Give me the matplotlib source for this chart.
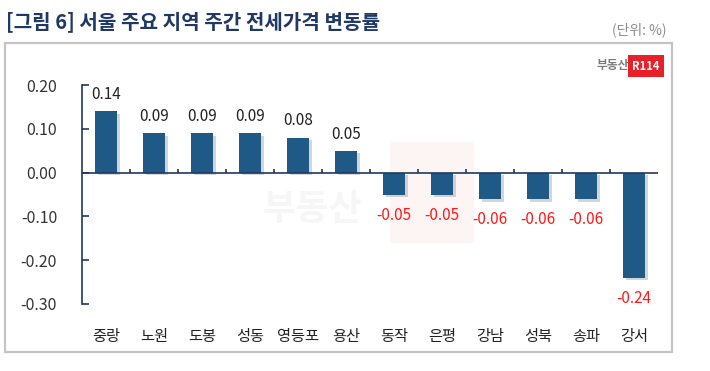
import matplotlib.pyplot as plt
import matplotlib.patheffects as pe
from matplotlib.patches import Rectangle
import numpy as np

plt.rcParams['font.family'] = ['Noto Sans CJK KR', 'DejaVu Sans']

# 서울 주요 지역 주간 전세가격 변동률 (%)
regions = ['중랑', '노원', '도봉', '성동', '영등포', '용산',
           '동작', '은평', '강남', '성북', '송파', '강서']
changes = [0.14, 0.09, 0.09, 0.09, 0.08, 0.05,
           -0.05, -0.05, -0.06, -0.06, -0.06, -0.24]
yticks = [0.20, 0.10, 0.00, -0.10, -0.20, -0.30]

bar_color = '#1f5a87'
navy = '#1f3864'

fig = plt.figure(figsize=(7.1, 3.71), dpi=100)

# outer frame
fig.patches.append(Rectangle((5 / 710, 1 - 352 / 371), 667 / 710, 309 / 371,
                             transform=fig.transFigure, fill=False,
                             edgecolor='#c4c4c4', linewidth=1.6))

fig.text(6 / 710, 1 - 22 / 371, '[그림 6] 서울 주요 지역 주간 전세가격 변동률',
         fontsize=14.5, fontweight='bold', color=navy, va='center', ha='left')
fig.text(667 / 710, 1 - 30 / 371, '(단위: %)', fontsize=10, color='#8c8c8c',
         va='center', ha='right')

# logo
fig.text(629 / 710, 1 - 66 / 371, '부동산', fontsize=8.5, fontweight='bold',
         color='#7a7a7a', va='center', ha='right')
fig.text(646 / 710, 1 - 66 / 371, 'R114', fontsize=8, fontweight='bold',
         color='white', va='center', ha='center',
         bbox=dict(boxstyle='square,pad=0.4', facecolor='#e8202a',
                   edgecolor='none'))

ax = fig.add_axes([82 / 710, 67 / 371, 576 / 710, 219 / 371])

# faint watermark
ax.text(0.40, 0.43, '부동산', transform=ax.transAxes, fontsize=26,
        fontweight='bold', color='#f6f6f6', ha='center', va='center', zorder=0)
ax.add_patch(Rectangle((0.535, 0.28), 0.145, 0.46, transform=ax.transAxes,
                       facecolor='#fdf4f4', edgecolor='none', zorder=0))

x = np.arange(len(regions))
bars = ax.bar(x, changes, width=0.46, color=bar_color, zorder=3)
for b in bars:
    b.set_path_effects([pe.SimplePatchShadow(offset=(2, -2),
                                             shadow_rgbFace='#888888',
                                             alpha=0.35),
                        pe.Normal()])

for xi, v in zip(x, changes):
    if v >= 0:
        ax.annotate(f'{v:.2f}', (xi, v), xytext=(0, 12), textcoords='offset points',
                    ha='center', va='center', fontsize=11, color='#222222')
    else:
        ax.annotate(f'{v:.2f}', (xi, v), xytext=(0, -15), textcoords='offset points',
                    ha='center', va='center', fontsize=11, color='#ff1a1a')

ax.set_xlim(-0.5, len(regions) - 0.5)
ax.set_ylim(-0.30, 0.20)

ax.axhline(0, color=navy, linewidth=1.2, zorder=4)
ax.vlines(x[:-1] + 0.5, 0, 0.008, color=navy, linewidth=1.2, zorder=4)

for s in ['top', 'right', 'bottom']:
    ax.spines[s].set_visible(False)
ax.spines['left'].set_color(navy)
ax.spines['left'].set_linewidth(1.2)

ax.set_yticks(yticks)
ax.set_yticklabels([f'{t:.2f}' for t in yticks])
ax.tick_params(axis='y', direction='in', length=5, color=navy, width=1.2,
               labelsize=11.5, labelcolor='#333333', pad=18)
ax.set_xticks(x)
ax.set_xticklabels(regions)
ax.tick_params(axis='x', length=0, labelsize=11, labelcolor='#222222', pad=17)

fig.savefig('out.png', dpi=100)
